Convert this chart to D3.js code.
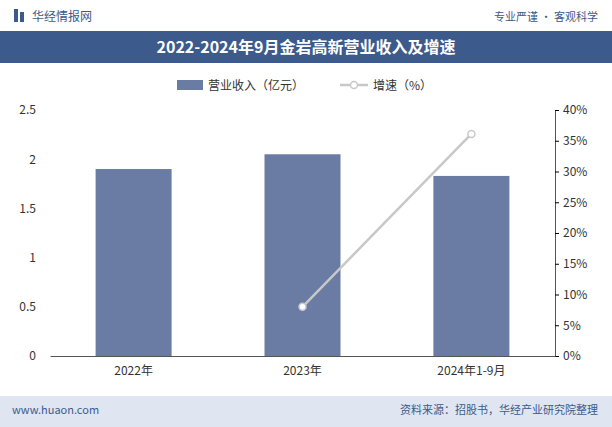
<!DOCTYPE html>
<html><head><meta charset="utf-8">
<script src="https://cdn.jsdelivr.net/npm/d3@7"></script>
<style>body{margin:0;background:#fff;font-family:"Noto Sans CJK SC","Noto Sans",sans-serif}</style>
</head><body><svg id="c" width="612" height="427"></svg>
<script>
const categories = ["2022年", "2023年", "2024年1-9月"];
const revenue = [1.90, 2.05, 1.83];
const growth = [null, 8.0, 36.1];
const leftTicks = [0, 0.5, 1, 1.5, 2, 2.5];
const rightTicks = [0, 5, 10, 15, 20, 25, 30, 35, 40];

const svg = d3.select("#c");
const W = 612, H = 427;
const m = {l: 50, r: 555, t: 110, b: 356};

// header
svg.append("rect").attr("width", W).attr("height", 31).attr("fill", "#fff");
svg.append("rect").attr("x", 14).attr("y", 9).attr("width", 4).attr("height", 13).attr("fill", "#3c5a8c");
svg.append("rect").attr("x", 20).attr("y", 12).attr("width", 4).attr("height", 10).attr("fill", "#3c5a8c");
svg.append("text").attr("x", 32).attr("y", 21).attr("font-size", 12).attr("fill", "#3c5a8c").text("华经情报网");
svg.append("text").attr("x", 598).attr("y", 21).attr("text-anchor", "end").attr("font-size", 11).attr("fill", "#3c5a8c").text("专业严谨 • 客观科学");
svg.append("rect").attr("y", 31).attr("width", W).attr("height", 32).attr("fill", "#3c5a8c");
svg.append("text").attr("x", W / 2).attr("y", 53).attr("text-anchor", "middle").attr("font-size", 16).attr("font-weight", "bold").attr("fill", "#fff").text("2022-2024年9月金岩高新营业收入及增速");

// footer
svg.append("rect").attr("y", 396).attr("width", W).attr("height", 31).attr("fill", "#dfe6f1");
svg.append("text").attr("x", 12).attr("y", 414).attr("font-size", 11).attr("fill", "#3c5a8c").text("www.huaon.com");
svg.append("text").attr("x", 598).attr("y", 414).attr("text-anchor", "end").attr("font-size", 11).attr("fill", "#3c5a8c").text("资料来源：招股书，华经产业研究院整理");

const x = d3.scaleBand().domain(categories).range([m.l, m.r]).paddingInner(0.55).paddingOuter(0.27);
const y = d3.scaleLinear().domain([0, 2.5]).range([m.b, m.t]);
const y2 = d3.scaleLinear().domain([0, 40]).range([m.b, m.t]);

svg.selectAll(".bar").data(revenue).join("rect")
  .attr("x", (d, i) => x(categories[i])).attr("width", x.bandwidth())
  .attr("y", d => y(d)).attr("height", d => y(0) - y(d)).attr("fill", "#6a7ca3");

const axL = svg.append("g").attr("transform", `translate(${m.l},0)`)
  .call(d3.axisLeft(y).tickValues(leftTicks).tickFormat(d3.format("")).tickSize(0).tickPadding(14));
axL.select(".domain").remove();
const axR = svg.append("g").attr("transform", `translate(${m.r},0)`)
  .call(d3.axisRight(y2).tickValues(rightTicks).tickFormat(d => d + "%").tickSize(4).tickPadding(4));
axR.select(".domain").attr("stroke", "#555");
const axB = svg.append("g").attr("transform", `translate(0,${m.b})`)
  .call(d3.axisBottom(x).tickSize(0).tickPadding(10));
axB.select(".domain").attr("stroke", "#555");
svg.selectAll(".tick text").attr("font-size", 12).attr("fill", "#333").attr("font-family", "Noto Sans CJK SC, sans-serif");

const pts = growth.map((g, i) => ({g, c: categories[i]})).filter(d => d.g !== null);
svg.append("path").datum(pts)
  .attr("d", d3.line().x(d => x(d.c) + x.bandwidth() / 2).y(d => y2(d.g)))
  .attr("fill", "none").attr("stroke", "#c8c8c8").attr("stroke-width", 2.5);
svg.selectAll(".pt").data(pts).join("circle")
  .attr("cx", d => x(d.c) + x.bandwidth() / 2).attr("cy", d => y2(d.g)).attr("r", 3.5)
  .attr("fill", "#fff").attr("stroke", "#c8c8c8").attr("stroke-width", 1.5);

// legend
const lg = svg.append("g");
lg.append("rect").attr("x", 177).attr("y", 80).attr("width", 26).attr("height", 10).attr("fill", "#6a7ca3");
lg.append("text").attr("x", 208).attr("y", 90).attr("font-size", 12).attr("fill", "#333").text("营业收入（亿元）");
lg.append("line").attr("x1", 340).attr("x2", 368).attr("y1", 85).attr("y2", 85).attr("stroke", "#c8c8c8").attr("stroke-width", 2.5);
lg.append("circle").attr("cx", 354).attr("cy", 85).attr("r", 3.5).attr("fill", "#fff").attr("stroke", "#c8c8c8").attr("stroke-width", 1.5);
lg.append("text").attr("x", 373).attr("y", 90).attr("font-size", 12).attr("fill", "#333").text("增速（%）");
</script></body></html>
